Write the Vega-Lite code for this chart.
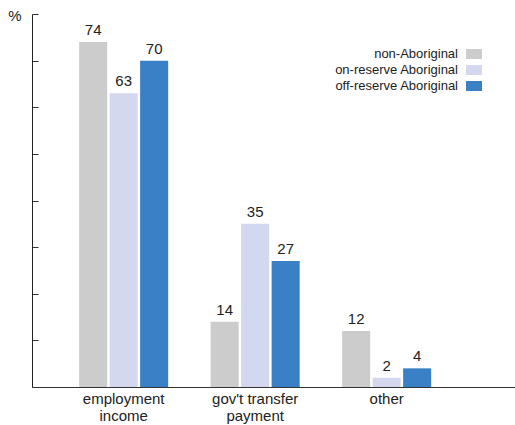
{
  "$schema": "https://vega.github.io/schema/vega-lite/v6.json",
  "width": 483,
  "height": 373,
  "autosize": {"type": "none"},
  "padding": {"left": 32, "top": 14, "right": 0, "bottom": 38},
  "background": "white",
  "config": {"view": {"stroke": null}, "font": "Liberation Sans"},
  "data": {
    "values": [
      {"category": "employment income", "group": "non-Aboriginal", "value": 74},
      {"category": "employment income", "group": "on-reserve Aboriginal", "value": 63},
      {"category": "employment income", "group": "off-reserve Aboriginal", "value": 70},
      {"category": "gov't transfer payment", "group": "non-Aboriginal", "value": 14},
      {"category": "gov't transfer payment", "group": "on-reserve Aboriginal", "value": 35},
      {"category": "gov't transfer payment", "group": "off-reserve Aboriginal", "value": 27},
      {"category": "other", "group": "non-Aboriginal", "value": 12},
      {"category": "other", "group": "on-reserve Aboriginal", "value": 2},
      {"category": "other", "group": "off-reserve Aboriginal", "value": 4}
    ]
  },
  "encoding": {
    "x": {
      "field": "category",
      "type": "nominal",
      "sort": ["employment income", "gov't transfer payment", "other"],
      "scale": {"paddingInner": 0.323, "paddingOuter": 0.498, "align": 0.36},
      "axis": {
        "title": null,
        "ticks": false,
        "labelAngle": 0,
        "labelPadding": 4,
        "labelFontSize": 15,
        "labelColor": "#222222",
        "labelLineHeight": 17,
        "labelExpr": "datum.value == 'employment income' ? ['employment', 'income'] : datum.value == \"gov't transfer payment\" ? [\"gov't transfer\", 'payment'] : datum.label",
        "domainColor": "#333333",
        "domainWidth": 1
      }
    },
    "xOffset": {
      "field": "group",
      "type": "nominal",
      "sort": ["non-Aboriginal", "on-reserve Aboriginal", "off-reserve Aboriginal"],
      "scale": {"paddingInner": 0.08}
    },
    "y": {
      "field": "value",
      "type": "quantitative",
      "scale": {"domain": [0, 80], "nice": false},
      "axis": {
        "values": [0, 10, 20, 30, 40, 50, 60, 70, 80],
        "labels": false,
        "grid": false,
        "tickSize": -6,
        "tickColor": "#333333",
        "domainColor": "#222222",
        "title": "%",
        "titleAngle": 0,
        "titleX": -17.5,
        "titleY": 1,
        "titleAlign": "center",
        "titleBaseline": "middle",
        "titleFontSize": 15,
        "titleFontWeight": "normal",
        "titleColor": "#222222"
      }
    }
  },
  "layer": [
    {
      "mark": {"type": "bar"},
      "encoding": {
        "color": {
          "field": "group",
          "type": "nominal",
          "scale": {
            "domain": ["non-Aboriginal", "on-reserve Aboriginal", "off-reserve Aboriginal"],
            "range": ["#cccccc", "#d3d8ee", "#3a80c6"]
          },
          "legend": {
            "orient": "none",
            "legendX": 434,
            "legendY": 32,
            "padding": 0,
            "title": null,
            "symbolType": "M-1,-0.625H1V0.625H-1Z",
            "symbolSize": 256,
            "symbolStrokeWidth": 0,
            "symbolOpacity": 1,
            "labelAlign": "right",
            "labelOffset": -24,
            "labelFontSize": 13,
            "labelColor": "#222222",
            "labelLimit": 300,
            "rowPadding": 1
          }
        }
      }
    },
    {
      "mark": {"type": "text", "baseline": "bottom", "dy": -4, "fontSize": 15, "color": "#222222"},
      "encoding": {"text": {"field": "value", "type": "quantitative"}}
    }
  ]
}
